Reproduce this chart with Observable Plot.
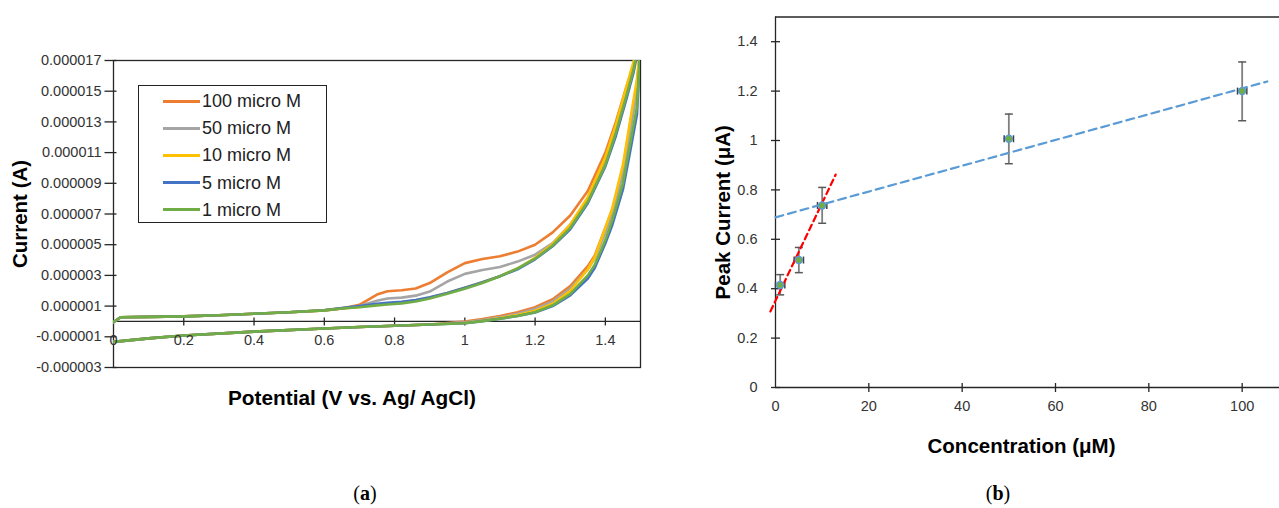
<!DOCTYPE html>
<html><head><meta charset="utf-8">
<script src="https://cdn.jsdelivr.net/npm/d3@7"></script>
<script src="https://cdn.jsdelivr.net/npm/@observablehq/plot@0.6"></script>
<style>
body{margin:0;background:#fff;}
#wrap{position:relative;width:1279px;height:508px;overflow:hidden;font-family:"Liberation Sans",Arial,sans-serif;background:#fff;}
#wrap svg{position:absolute;top:0;}
.cap{position:absolute;font-family:"Liberation Serif","DejaVu Serif",serif;font-size:20px;color:#000;transform:translate(-50%,-50%);white-space:nowrap;}
.legend{position:absolute;left:138px;top:85px;width:189px;height:138px;border:1.3px solid #222;box-sizing:border-box;background:#fff;}
.lrow{position:absolute;left:0;height:22px;width:188px;}
.lrow .sw{position:absolute;left:24px;top:9.5px;width:37px;height:3px;}
.lrow .lt{position:absolute;left:63px;top:0;line-height:22px;font-size:18px;color:#222;white-space:nowrap;}
</style></head><body><div id="wrap"></div>
<script>
// ---------- Panel (a): cyclic voltammograms (current in micro-amps) ----------
const seriesLabels = ["100 micro M","50 micro M","10 micro M","5 micro M","1 micro M"];
const seriesColors = ["#ED7D31","#A5A5A5","#FFC000","#4472C4","#70AD47"];

const potentialUp = [0,0.02,0.1,0.2,0.3,0.4,0.5,0.6,0.65,0.7,0.75,0.78,0.82,0.86,0.9,0.95,1.0,1.05,1.1,1.15,1.2,1.25,1.3,1.35,1.4,1.43,1.46,1.48,1.5];
const up100 = [-0.05,0.27,0.3,0.33,0.4,0.5,0.6,0.72,0.85,1.08,1.75,1.97,2.03,2.15,2.5,3.2,3.8,4.07,4.25,4.55,5.0,5.8,6.9,8.5,11.0,13.0,15.3,16.7,19];
const up50  = [-0.05,0.27,0.3,0.33,0.4,0.5,0.6,0.72,0.85,1.0,1.35,1.5,1.55,1.68,1.95,2.6,3.1,3.35,3.55,3.9,4.35,5.1,6.3,8.0,10.4,12.5,14.9,16.4,19];
const up10  = [-0.05,0.27,0.3,0.33,0.4,0.5,0.6,0.72,0.85,0.95,1.1,1.17,1.25,1.38,1.55,1.85,2.2,2.55,2.95,3.45,4.15,5.05,6.3,8.1,10.7,12.8,15.3,16.9,19];
const up5   = [-0.05,0.27,0.3,0.33,0.4,0.5,0.6,0.73,0.87,1.0,1.15,1.22,1.28,1.4,1.57,1.85,2.2,2.55,2.95,3.4,4.05,4.9,6.0,7.7,10.1,12.1,14.5,16.2,18.5];
const up1   = [-0.05,0.27,0.3,0.33,0.4,0.5,0.6,0.72,0.84,0.93,1.05,1.1,1.18,1.3,1.5,1.8,2.13,2.5,2.95,3.45,4.09,4.95,6.1,7.8,10.2,12.3,14.7,16.4,18.8];

const potentialDown = [1.5,1.49,1.47,1.45,1.42,1.4,1.37,1.35,1.3,1.25,1.2,1.15,1.1,1.05,1.0,0.9,0.8,0.7,0.6,0.4,0.2,0.1,0];
const down100 = [18,15.5,12.8,10.0,7.3,6.1,4.3,3.6,2.3,1.45,0.93,0.6,0.35,0.15,0.0,-0.2,-0.28,-0.36,-0.46,-0.66,-0.92,-1.1,-1.33];
const down50  = [18,15.0,12.3,9.6,7.0,5.8,4.1,3.4,2.15,1.3,0.82,0.5,0.28,0.1,-0.05,-0.2,-0.28,-0.36,-0.46,-0.66,-0.92,-1.1,-1.33];
const down10  = [18,15.8,13.0,10.2,7.4,6.1,4.2,3.4,2.0,1.15,0.7,0.42,0.22,0.05,-0.1,-0.2,-0.28,-0.36,-0.46,-0.66,-0.92,-1.1,-1.33];
const down5   = [18,13.5,11.0,8.6,6.3,5.1,3.5,2.8,1.7,1.0,0.58,0.35,0.18,0.02,-0.12,-0.2,-0.28,-0.36,-0.46,-0.66,-0.92,-1.1,-1.33];
const down1   = [18,14.0,11.5,9.0,6.6,5.3,3.7,3.0,1.8,1.05,0.6,0.36,0.18,0.02,-0.12,-0.2,-0.28,-0.36,-0.46,-0.66,-0.92,-1.1,-1.33];

const upSeries = [up100, up50, up10, up5, up1];
const downSeries = [down100, down50, down10, down5, down1];

const xTicksA = [0,0.2,0.4,0.6,0.8,1,1.2,1.4];
const yTicksA = [-3,-1,1,3,5,7,9,11,13,15,17];

// ---------- Panel (b): calibration ----------
const concentration = [1,5,10,50,100];
const peakCurrent   = [0.415,0.516,0.737,1.007,1.2];
const errLow        = [0.375,0.465,0.665,0.906,1.08];
const errHigh       = [0.457,0.567,0.81,1.107,1.318];
const concErr       = [1,1,1,1,1];
const fitLowX  = [-1.1,12.9],  fitLowY  = [0.308,0.862];
const fitHighX = [0,105.4],    fitHighY = [0.689,1.239];
const xTicksB = [0,20,40,60,80,100];
const yTicksB = [0,0.2,0.4,0.6,0.8,1,1.2,1.4];

// custom tick symbols
const hline = {draw(ctx,size){const r=Math.sqrt(size/Math.PI);ctx.moveTo(-r,0);ctx.lineTo(r,0);}};
const vline = {draw(ctx,size){const r=Math.sqrt(size/Math.PI);ctx.moveTo(0,-r);ctx.lineTo(0,r);}};

const font = "Liberation Sans, Arial, sans-serif";
const axisInk = "#262626";
const tickInk = "#333";
const tickFs = 14.5;

// build CV rows
const cvMarks = upSeries.map((up, i) => {
  const rows = [];
  potentialUp.forEach((v, k) => rows.push({V: v, I: up[k]}));
  potentialDown.forEach((v, k) => rows.push({V: v, I: downSeries[i][k]}));
  return Plot.line(rows, {x: "V", y: "I", stroke: seriesColors[i], strokeWidth: 2.6, clip: true, strokeLinejoin: "round"});
});

const left = Plot.plot({
  width: 660, height: 420,
  marginLeft: 113, marginRight: 20, marginTop: 60, marginBottom: 53,
  style: {fontFamily: font, fontSize: "14px", background: "transparent", overflow: "visible"},
  x: {domain: [0, 1.5], axis: null},
  y: {domain: [-3, 17], axis: null},
  marks: [
    Plot.frame({stroke: axisInk, strokeWidth: 1.3}),
    Plot.ruleY([0], {stroke: axisInk, strokeWidth: 1.3}),
    Plot.dot(xTicksA.slice(1), {x: d => d, y: 0, symbol: vline, r: 4, stroke: axisInk, strokeWidth: 1.3}),
    Plot.dot(yTicksA, {x: 0, y: d => d, symbol: hline, r: 6, dx: -3, stroke: axisInk, strokeWidth: 1.3}),
    Plot.text(yTicksA, {x: 0, y: d => d, dx: -12, textAnchor: "end", text: d => (d * 1e-6).toFixed(6), fill: tickInk, fontSize: tickFs}),
    ...cvMarks,
    Plot.text(xTicksA, {x: d => d, y: 0, dy: 19, text: d => String(d), fill: tickInk, fontSize: tickFs}),
    Plot.text(["Current (A)"], {text: d => d, frameAnchor: "left", textAnchor: "middle", lineAnchor: "middle", dx: -93, rotate: -90, fontSize: 20.5, fontWeight: "bold", fill: "#000"}),
    Plot.text(["Potential (V vs. Ag/ AgCl)"], {text: d => d, frameAnchor: "bottom", textAnchor: "middle", lineAnchor: "middle", dx: -25, dy: 31, fontSize: 20.8, fontWeight: "bold", fill: "#000"})
  ]
});
left.style.left = "0px";

const pts = concentration.map((c, i) => ({c, p: peakCurrent[i], lo: errLow[i], hi: errHigh[i], ce: concErr[i]}));
const capsY = pts.flatMap(d => [{c: d.c, y: d.lo}, {c: d.c, y: d.hi}]);
const capsX = pts.flatMap(d => [{x: d.c - d.ce, p: d.p}, {x: d.c + d.ce, p: d.p}]);
const fitLow = fitLowX.map((x, i) => ({x, y: fitLowY[i]}));
const fitHigh = fitHighX.map((x, i) => ({x, y: fitHighY[i]}));

const right = Plot.plot({
  width: 619, height: 470,
  marginLeft: 115, marginRight: 0, marginTop: 16.5, marginBottom: 83,
  style: {fontFamily: font, fontSize: "14px", background: "transparent", overflow: "visible"},
  x: {domain: [0, 108], axis: null},
  y: {domain: [0, 1.5], axis: null},
  marks: [
    Plot.ruleY([1.5], {stroke: axisInk, strokeWidth: 1.3}),
    Plot.ruleX([0], {stroke: axisInk, strokeWidth: 1.3}),
    Plot.ruleY([0], {stroke: axisInk, strokeWidth: 1.3}),
    Plot.dot(yTicksB, {x: 0, y: d => d, symbol: hline, r: 4.5, stroke: axisInk, strokeWidth: 1.3}),
    Plot.dot(xTicksB.slice(1), {x: d => d, y: 0, symbol: vline, r: 4.5, stroke: axisInk, strokeWidth: 1.3}),
    Plot.text(yTicksB, {x: 0, y: d => d, dx: -18, text: d => String(d), textAnchor: "end", fill: tickInk, fontSize: tickFs}),
    Plot.text(xTicksB, {x: d => d, y: 0, dy: 19, text: d => String(d), fill: tickInk, fontSize: tickFs}),
    // error bars
    Plot.ruleX(pts, {x: "c", y1: "lo", y2: "hi", stroke: "#7f7f7f", strokeWidth: 1.8}),
    Plot.dot(capsY, {x: "c", y: "y", symbol: hline, r: 4, stroke: "#595959", strokeWidth: 1.5}),
    Plot.ruleY(pts, {y: "p", x1: d => d.c - d.ce, x2: d => d.c + d.ce, stroke: "#595959", strokeWidth: 1.5}),
    Plot.dot(capsX, {x: "x", y: "p", symbol: vline, r: 3.5, stroke: "#404040", strokeWidth: 1.5}),
    // trend lines
    Plot.line(fitHigh, {x: "x", y: "y", stroke: "#5B9BD5", strokeWidth: 2.2, strokeDasharray: "8,5"}),
    Plot.line(fitLow, {x: "x", y: "y", stroke: "#FF0000", strokeWidth: 2.2, strokeDasharray: "6,4"}),
    // markers
    Plot.dot(pts, {x: "c", y: "p", r: 3.5, fill: "#70AD47", stroke: "#5B9BD5", strokeWidth: 1.4}),
    Plot.text(["Peak Current (\u03bcA)"], {text: d => d, frameAnchor: "left", textAnchor: "middle", lineAnchor: "middle", dx: -52, dy: 10, rotate: -90, fontSize: 20.5, fontWeight: "bold", fill: "#000"}),
    Plot.text(["Concentration (\u03bcM)"], {text: d => d, frameAnchor: "bottom", textAnchor: "middle", lineAnchor: "middle", dx: -6, dy: 59, fontSize: 20.5, fontWeight: "bold", fill: "#000"})
  ]
});
right.style.left = "660px";

const wrap = document.getElementById("wrap");
wrap.appendChild(left);
wrap.appendChild(right);

// legend (inside panel a)
const leg = document.createElement("div");
leg.className = "legend";
seriesLabels.forEach((lab, i) => {
  const row = document.createElement("div");
  row.className = "lrow";
  row.style.top = (4 + 27.2 * i) + "px";
  row.innerHTML = `<span class="sw" style="background:${seriesColors[i]}"></span><span class="lt">${lab}</span>`;
  leg.appendChild(row);
});
wrap.appendChild(leg);

// panel captions
[["a", 365], ["b", 998]].forEach(([t, x]) => {
  const c = document.createElement("div");
  c.className = "cap";
  c.style.left = x + "px";
  c.style.top = "493px";
  c.innerHTML = `(<b>${t}</b>)`;
  wrap.appendChild(c);
});
</script></body></html>
